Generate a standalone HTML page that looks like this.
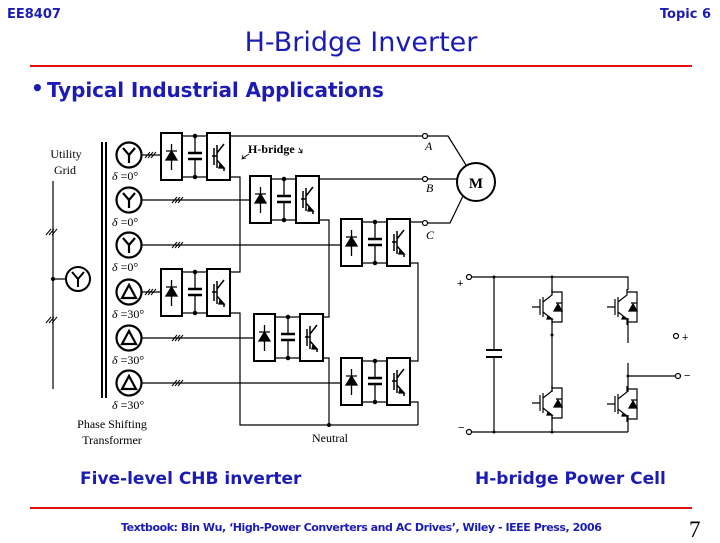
<!DOCTYPE html>
<html><head><style>
body{margin:0;width:720px;height:540px;background:#fff;overflow:hidden;position:relative;font-family:"DejaVu Sans",sans-serif}
.b{position:absolute;color:#1c1cb4;font-weight:bold;white-space:nowrap}
</style></head><body>
<div class="b" style="left:7px;top:7px;font-size:13px">EE8407</div>
<div class="b" style="right:9px;top:7px;font-size:13px">Topic 6</div>
<div class="b" style="left:0;width:722px;text-align:center;top:27px;font-size:27px;font-weight:normal">H-Bridge Inverter</div>
<div style="position:absolute;left:30px;top:65px;width:662px;height:2px;background:#e01010"></div>
<div class="b" style="left:31px;top:76px;font-size:20px">•</div>
<div class="b" style="left:47px;top:78px;font-size:20px;letter-spacing:-0.1px">Typical Industrial Applications</div>
<div class="b" style="left:80px;top:469px;font-size:17px">Five-level CHB inverter</div>
<div class="b" style="left:475px;top:469px;font-size:17px">H-bridge Power Cell</div>
<div style="position:absolute;left:30px;top:507px;width:662px;height:2px;background:#e01010"></div>
<div class="b" style="left:121px;top:521px;font-size:11px;letter-spacing:-0.45px">Textbook: Bin Wu, ‘High-Power Converters and AC Drives’, Wiley - IEEE Press, 2006</div>
<div style="position:absolute;left:689px;top:517px;font-size:23px;font-family:'Liberation Serif',serif">7</div>
<svg width="720" height="540" style="position:absolute;left:0;top:0" font-family="Liberation Serif,serif">
<defs>
<g id="cell" stroke="#000" fill="none" stroke-width="1.3">
<rect x="0" y="0" width="21" height="47" stroke-width="2"/>
<rect x="46" y="0" width="23" height="47" stroke-width="2"/>
<path d="M21 3H46M21 44H46M34 3V20M34 26V44" />
<path d="M27 20H41M27 26H41" stroke-width="2.5"/>
<circle cx="34" cy="3" r="1.6" fill="#000"/><circle cx="34" cy="44" r="1.6" fill="#000"/>
<path d="M10.5 11V37M5 18H16"/><path d="M5 27L16 27L10.5 18Z" fill="#000"/>
<path d="M53 15V32M56 12V35M56 20L63 11M56 27L63 35V38M56 23H51" stroke-width="1.5"/>
<path d="M59 31L63 35L58 35Z" fill="#000"/>
</g>
<g id="slash" stroke="#000" stroke-width="1"><path d="M-5 3L0 -3M-2 3L3 -3M1 3L6 -3"/></g>
<g id="igbt" stroke="#000" fill="none" stroke-width="1.2">
<path d="M-14 0H-6M-6 -8V8M-3 -10V10M-3 -5L6 -12V-18M-3 5L6 12V18M6 -15H16V15H6M10 -4H16"/>
<path d="M2 9L6 12L1 12Z" fill="#000"/><path d="M8 4H16L12 -3Z" fill="#000"/>
</g>
</defs>
<g font-size="12" fill="#000">
<text x="66" y="158" text-anchor="middle">Utility</text>
<text x="65" y="174" text-anchor="middle">Grid</text>
<text x="112" y="428" text-anchor="middle">Phase Shifting</text>
<text x="112" y="444" text-anchor="middle">Transformer</text>
<text x="330" y="442" text-anchor="middle">Neutral</text>
<text x="248" y="153" font-weight="bold" font-size="12">H-bridge</text>
<g font-style="italic" font-size="12"><text x="425" y="150">A</text><text x="426" y="192">B</text><text x="426" y="239">C</text></g>
<g font-size="12"><text x="112" y="180"><tspan font-style="italic">δ</tspan> =0°</text>
<text x="112" y="226"><tspan font-style="italic">δ</tspan> =0°</text>
<text x="112" y="271"><tspan font-style="italic">δ</tspan> =0°</text>
<text x="112" y="318"><tspan font-style="italic">δ</tspan> =30°</text>
<text x="112" y="364"><tspan font-style="italic">δ</tspan> =30°</text>
<text x="112" y="409"><tspan font-style="italic">δ</tspan> =30°</text></g>
</g>
<g stroke="#000" fill="none" stroke-width="1.2">
<path d="M53 181V389M53 279H66"/><circle cx="53" cy="279" r="1.5" fill="#000"/>
<circle cx="78" cy="279" r="12" stroke-width="2"/>
<path d="M72 272L78 279L84 272M78 279V287" stroke-width="2"/>
<path d="M102 142V398M106 142V398" stroke-width="2"/>
<g stroke-width="2.2">
<circle cx="129" cy="155" r="12.5"/><circle cx="129" cy="200" r="12.5"/><circle cx="129" cy="245" r="12.5"/>
<circle cx="129" cy="292" r="12.5"/><circle cx="129" cy="338" r="12.5"/><circle cx="129" cy="383" r="12.5"/>
<path d="M123 148L129 155L135 148M129 155V163M123 193L129 200L135 193M129 200V208M123 238L129 245L135 238M129 245V253"/>
<path d="M129 285L122 298H136Z M129 331L122 344H136Z M129 376L122 389H136Z"/>
</g>
<path d="M142 155H161M142 292H161M142 200H250M142 245H341M142 338H254M142 383H341"/>
<path d="M230 136H423M230 177H240V272H230M230 313H240V425H418M319 179H423M319 220H329V317H323M323 358H329V425M410 222H423M410 263H418V361H410M410 402H418V425"/>
<path d="M427 136H448L466 165M427 179H457M427 223H450L463 196"/>
<circle cx="476" cy="182" r="19" stroke-width="2"/>
<circle cx="425" cy="136" r="2.5" fill="#fff"/><circle cx="425" cy="179" r="2.5" fill="#fff"/><circle cx="425" cy="223" r="2.5" fill="#fff"/>
<path d="M243 158L249 154M246 158L242 159L243 155M299 148L302 153M302 153V149M302 153L298 152" stroke-width="0.8"/>
</g>
<circle cx="329" cy="425" r="2" fill="#000"/>
<text x="476" y="188" text-anchor="middle" font-weight="bold" font-size="15">M</text>
<use href="#slash" x="51" y="232"/><use href="#slash" x="51" y="320"/>
<use href="#slash" x="150" y="155"/><use href="#slash" x="150" y="292"/>
<use href="#slash" x="177" y="200"/><use href="#slash" x="177" y="245"/><use href="#slash" x="177" y="338"/><use href="#slash" x="177" y="383"/>
<use href="#cell" x="161" y="133"/><use href="#cell" x="161" y="269"/>
<use href="#cell" x="250" y="176"/><use href="#cell" x="254" y="314"/>
<use href="#cell" x="341" y="219"/><use href="#cell" x="341" y="358"/>
<g stroke="#000" fill="none" stroke-width="1.2">
<path d="M471 277H628V290M471 432H628M494 277V350M494 358V432M552 277V295M552 318V392M552 415V432M628 318V343M628 363V392M628 415V432M628 376H676"/>
<path d="M486 350H502M486 357H502" stroke-width="2"/>
<circle cx="469" cy="277" r="2.5" fill="#fff"/><circle cx="469" cy="432" r="2.5" fill="#fff"/>
<circle cx="678" cy="376" r="2.5" fill="#fff"/><circle cx="676" cy="336" r="2.5" fill="#fff"/>
</g>
<g fill="#000"><circle cx="494" cy="277" r="1.5"/><circle cx="552" cy="277" r="1.5"/><circle cx="552" cy="335" r="1.5"/><circle cx="494" cy="432" r="1.5"/><circle cx="552" cy="432" r="1.5"/><circle cx="628" cy="376" r="1.5"/></g>
<use href="#igbt" x="546" y="307"/><use href="#igbt" x="546" y="403"/>
<use href="#igbt" x="621" y="307"/><use href="#igbt" x="621" y="404"/>
<g font-family="Liberation Sans,sans-serif" font-size="11" fill="#000">
<text x="457" y="287">+</text><text x="458" y="431">−</text><text x="682" y="341">+</text><text x="684" y="379">−</text>
</g>
</svg>
</body></html>
